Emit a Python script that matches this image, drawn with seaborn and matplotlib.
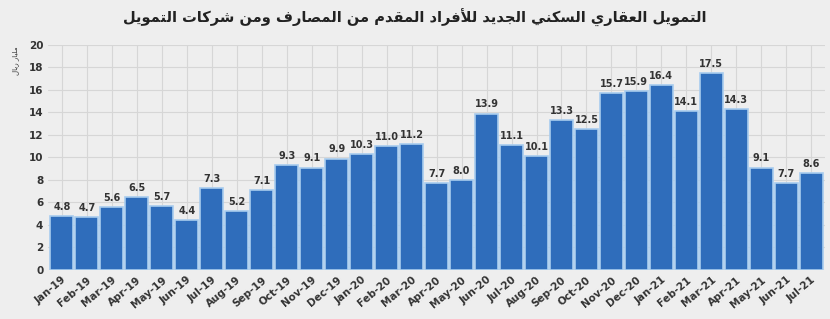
import seaborn as sns
import matplotlib.pyplot as plt
import pandas as pd

# Data
months = ['Jan-19', 'Feb-19', 'Mar-19', 'Apr-19', 'May-19', 'Jun-19', 'Jul-19', 'Aug-19', 'Sep-19', 'Oct-19',
          'Nov-19', 'Dec-19', 'Jan-20', 'Feb-20', 'Mar-20', 'Apr-20', 'May-20', 'Jun-20', 'Jul-20', 'Aug-20',
          'Sep-20', 'Oct-20', 'Nov-20', 'Dec-20', 'Jan-21', 'Feb-21', 'Mar-21', 'Apr-21', 'May-21', 'Jun-21',
          'Jul-21']
values = [4.8, 4.7, 5.6, 6.5, 5.7, 4.4, 7.3, 5.2, 7.1, 9.3, 9.1, 9.9,
          10.3, 11.0, 11.2, 7.7, 8.0, 13.9, 11.1, 10.1, 13.3, 12.5, 15.7, 15.9,
          16.4, 14.1, 17.5, 14.3, 9.1, 7.7, 8.6]

title = 'التمويل العقاري السكني الجديد للأفراد المقدم من المصارف ومن شركات التمويل'
ylabel = 'مليار ريال'

# simple arabic shaping (matplotlib has no shaping): presentation forms + visual order
forms = {
    'ا': ('\uFE8D', '\uFE8E', None, None), 'أ': ('\uFE83', '\uFE84', None, None),
    'ت': ('\uFE95', '\uFE96', '\uFE97', '\uFE98'), 'ج': ('\uFE9D', '\uFE9E', '\uFE9F', '\uFEA0'),
    'د': ('\uFEA9', '\uFEAA', None, None), 'ر': ('\uFEAD', '\uFEAE', None, None),
    'س': ('\uFEB1', '\uFEB2', '\uFEB3', '\uFEB4'), 'ش': ('\uFEB5', '\uFEB6', '\uFEB7', '\uFEB8'),
    'ص': ('\uFEB9', '\uFEBA', '\uFEBB', '\uFEBC'), 'ع': ('\uFEC9', '\uFECA', '\uFECB', '\uFECC'),
    'ف': ('\uFED1', '\uFED2', '\uFED3', '\uFED4'), 'ق': ('\uFED5', '\uFED6', '\uFED7', '\uFED8'),
    'ك': ('\uFED9', '\uFEDA', '\uFEDB', '\uFEDC'), 'ل': ('\uFEDD', '\uFEDE', '\uFEDF', '\uFEE0'),
    'م': ('\uFEE1', '\uFEE2', '\uFEE3', '\uFEE4'), 'ن': ('\uFEE5', '\uFEE6', '\uFEE7', '\uFEE8'),
    'و': ('\uFEED', '\uFEEE', None, None), 'ي': ('\uFEF1', '\uFEF2', '\uFEF3', '\uFEF4'),
}
lam_alef = {'ا': ('\uFEFB', '\uFEFC'), 'أ': ('\uFEF7', '\uFEF8')}


def shape(text):
    chars = list(text)
    out = []
    i = 0
    while i < len(chars):
        c = chars[i]
        if c not in forms:
            out.append(c)
            i += 1
            continue
        prev = chars[i - 1] if i > 0 else ' '
        joins_prev = prev in forms and forms[prev][2] is not None
        nxt = chars[i + 1] if i + 1 < len(chars) else ' '
        if c == 'ل' and nxt in lam_alef:
            out.append(lam_alef[nxt][1] if joins_prev else lam_alef[nxt][0])
            i += 2
            continue
        joins_next = forms[c][2] is not None and nxt in forms
        iso, fin, ini, med = forms[c]
        if joins_prev and joins_next:
            out.append(med)
        elif joins_prev:
            out.append(fin)
        elif joins_next:
            out.append(ini)
        else:
            out.append(iso)
        i += 1
    return ''.join(out[::-1])


df = pd.DataFrame({'month': months, 'value': values})

sns.set_style('whitegrid')
plt.rcParams['font.family'] = ['DejaVu Sans']

fig = plt.figure(figsize=(8.3, 3.19), dpi=100, facecolor='#eeeeee')
ax = fig.add_axes([0.058, 0.154, 0.936, 0.705])
ax.set_facecolor('#eeeeee')

sns.barplot(data=df, x='month', y='value', color='#2f6dbb', saturation=1, width=0.92,
            edgecolor='#a8ccee', linewidth=1.2, ax=ax)
ax.bar_label(ax.containers[0], fmt='%.1f', padding=3, fontsize=7, fontweight='bold', color='#333333')

ax.set_ylim(0, 20)
ax.set_yticks(range(0, 21, 2))
ax.set_xlim(-0.55, len(months) - 0.45)
ax.grid(True, axis='both', color='#d6d6d6', linewidth=0.8)
ax.set_axisbelow(True)
for s in ax.spines.values():
    s.set_visible(False)

ax.tick_params(axis='both', length=0, colors='#333333')
plt.setp(ax.get_xticklabels(), rotation=40, ha='right', rotation_mode='anchor', fontsize=7.5, fontweight='bold')
plt.setp(ax.get_yticklabels(), fontsize=7.5, fontweight='bold')
ax.set_xlabel('')
ax.set_ylabel(shape(ylabel), fontsize=5, color='#333333', labelpad=2)
ax.yaxis.set_label_coords(-0.037, 0.93)

fig.text(0.5, 0.944, shape(title), ha='center', va='center', fontsize=10.5, fontweight='bold', color='#222222')

plt.savefig('out.png', dpi=100, facecolor=fig.get_facecolor())
